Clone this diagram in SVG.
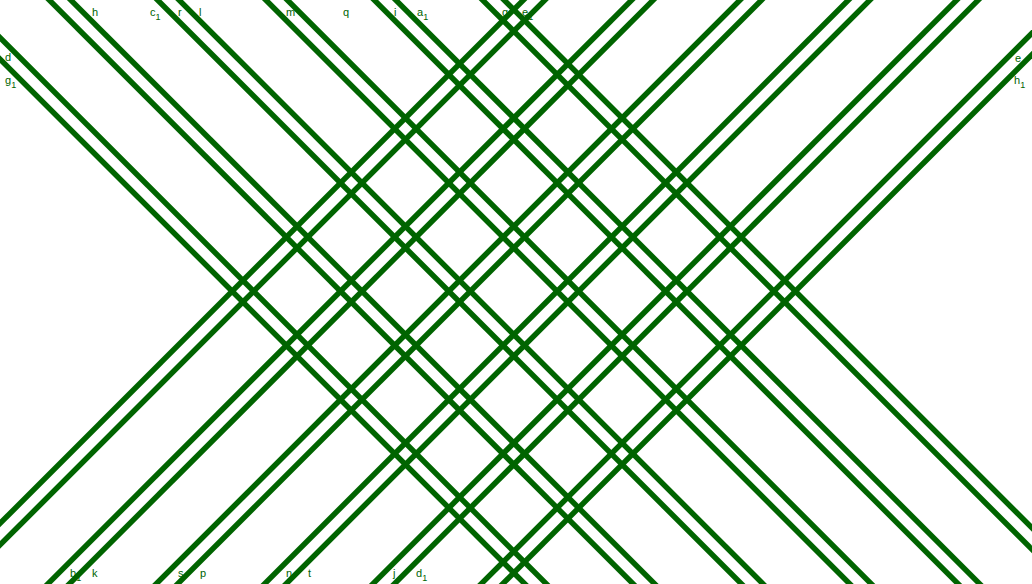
<svg xmlns="http://www.w3.org/2000/svg" width="1032" height="584" viewBox="0 0 1032 584">
<style>
.ln{stroke:#006400;stroke-width:5.5;fill:none}
.lb{font-family:"Liberation Sans",Arial,sans-serif;font-size:11px;fill:#006400}
.sb{font-size:9px}
</style>
<rect width="1032" height="584" fill="#ffffff"/>
<g id="labels" class="lb">
<text x="92" y="16">h</text>
<text x="150" y="16">c<tspan class="sb" dy="4">1</tspan></text>
<text x="178" y="16">r</text>
<text x="199" y="16">l</text>
<text x="286" y="16">m</text>
<text x="343" y="16">q</text>
<text x="394" y="16">i</text>
<text x="417" y="16">a<tspan class="sb" dy="4">1</tspan></text>
<text x="502" y="16">g</text>
<text x="522" y="16">e<tspan class="sb" dy="4">1</tspan></text>
<text x="5" y="61">d</text>
<text x="5" y="84">g<tspan class="sb" dy="4">1</tspan></text>
<text x="1015" y="62">e</text>
<text x="1014" y="84">h<tspan class="sb" dy="4">1</tspan></text>
<text x="70" y="577">b<tspan class="sb" dy="4">1</tspan></text>
<text x="92" y="577">k</text>
<text x="178" y="577">s</text>
<text x="200" y="577">p</text>
<text x="286" y="577">n</text>
<text x="308" y="577">t</text>
<text x="393" y="577">j</text>
<text x="416" y="577">d<tspan class="sb" dy="4">1</tspan></text>
</g>
<g id="connectors">
<line class="ln" x1="-79.05" y1="-20" x2="544.95" y2="604"/>
<line class="ln" x1="-57.55" y1="-20" x2="566.45" y2="604"/>
<line class="ln" x1="29.25" y1="-20" x2="653.25" y2="604"/>
<line class="ln" x1="50.75" y1="-20" x2="674.75" y2="604"/>
<line class="ln" x1="137.55" y1="-20" x2="761.55" y2="604"/>
<line class="ln" x1="159.05" y1="-20" x2="783.05" y2="604"/>
<line class="ln" x1="245.85" y1="-20" x2="869.85" y2="604"/>
<line class="ln" x1="267.35" y1="-20" x2="891.35" y2="604"/>
<line class="ln" x1="354.25" y1="-20" x2="978.25" y2="604"/>
<line class="ln" x1="375.75" y1="-20" x2="999.75" y2="604"/>
<line class="ln" x1="462.55" y1="-20" x2="1086.55" y2="604"/>
<line class="ln" x1="484.05" y1="-20" x2="1108.05" y2="604"/>
<line class="ln" x1="543.45" y1="-20" x2="-80.55" y2="604"/>
<line class="ln" x1="564.95" y1="-20" x2="-59.05" y2="604"/>
<line class="ln" x1="651.75" y1="-20" x2="27.75" y2="604"/>
<line class="ln" x1="673.25" y1="-20" x2="49.25" y2="604"/>
<line class="ln" x1="760.05" y1="-20" x2="136.05" y2="604"/>
<line class="ln" x1="781.55" y1="-20" x2="157.55" y2="604"/>
<line class="ln" x1="868.45" y1="-20" x2="244.45" y2="604"/>
<line class="ln" x1="889.95" y1="-20" x2="265.95" y2="604"/>
<line class="ln" x1="976.75" y1="-20" x2="352.75" y2="604"/>
<line class="ln" x1="998.25" y1="-20" x2="374.25" y2="604"/>
<line class="ln" x1="1085.05" y1="-20" x2="461.05" y2="604"/>
<line class="ln" x1="1106.55" y1="-20" x2="482.55" y2="604"/>
</g>
</svg>
